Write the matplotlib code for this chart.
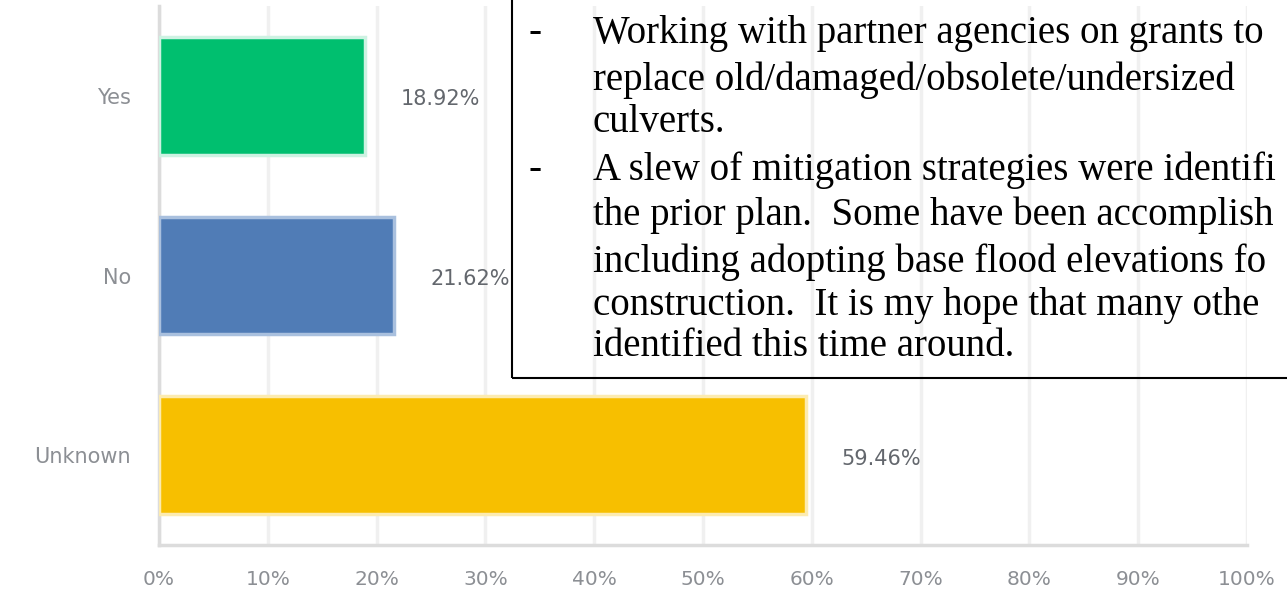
import numpy as np
import matplotlib.pyplot as plt
from matplotlib.patches import Rectangle

# survey answers
categories = ["Yes", "No", "Unknown"]
percents = [18.92, 21.62, 59.46]
value_labels = ["18.92%", "21.62%", "59.46%"]
bar_colors = ["#00BF6F", "#507CB6", "#F7BF00"]
edge_colors = ["#CDF2E2", "#A9C0DE", "#FCEBB0"]
x_ticks = [0, 10, 20, 30, 40, 50, 60, 70, 80, 90, 100]
x_tick_labels = [f"{t}%" for t in x_ticks]

# overlaid slide text, as much of each line as shows before the picture edge
note_lines = [
    ("-", "Working with partner agencies on grants to"),
    ("", "replace old/damaged/obsolete/undersized"),
    ("", "culverts."),
    ("-", "A slew of mitigation strategies were identifi"),
    ("", "the prior plan.  Some have been accomplish"),
    ("", "including adopting base flood elevations fo"),
    ("", "construction.  It is my hope that many othe"),
    ("", "identified this time around."),
]

fig = plt.figure(figsize=(12.87, 5.94), dpi=100)
ax = fig.add_axes([159 / 1287, 1 - 545 / 594, 1088 / 1287, 539 / 594])

y = np.arange(len(categories))
ax.barh(y, percents, height=0.655, color=bar_colors, edgecolor=edge_colors,
        linewidth=2.5, zorder=3)
for yi, v, lab in zip(y, percents, value_labels):
    ax.text(v + 3.3, yi + 0.02, lab, va="center", ha="left", fontsize=15,
            color="#63676d", family="DejaVu Sans")

ax.set_xlim(0, 100)
ax.set_ylim(len(categories) - 0.5, -0.5)
ax.set_yticks(y)
ax.set_yticklabels(categories, fontsize=15, color="#8c8f94")
ax.set_xticks(x_ticks)
ax.set_xticklabels(x_tick_labels, fontsize=14.5, color="#8c8f94")
ax.tick_params(axis="both", length=0)
ax.tick_params(axis="x", pad=18)
ax.tick_params(axis="y", pad=20)
ax.grid(axis="x", color="#f0f0f0", linewidth=2.5, zorder=0)
for s in ["top", "right"]:
    ax.spines[s].set_visible(False)
for s in ["left", "bottom"]:
    ax.spines[s].set_color("#dcdcdc")
    ax.spines[s].set_linewidth(2.5)

# text box drawn over the chart (runs off the right and top edges)
box = fig.add_axes([512 / 1287, 1 - 378 / 594, 0.7, 0.9], zorder=5)
box.axis("off")
box.add_patch(Rectangle((0, 0), 1, 1, transform=box.transAxes, facecolor="none",
                        edgecolor="black", linewidth=1.5, clip_on=False))

line_y = [33, 80, 123, 170, 215, 262, 305, 347]
for (bullet, txt), py in zip(note_lines, line_y):
    if bullet:
        fig.text(528 / 1287, 1 - py / 594, bullet, va="center", ha="left",
                 fontsize=28, family="Liberation Serif", color="black", zorder=6)
    fig.text(593 / 1287, 1 - py / 594, txt, va="center", ha="left",
             fontsize=28, family="Liberation Serif", color="black", zorder=6)

fig.savefig("out.png", dpi=100)
